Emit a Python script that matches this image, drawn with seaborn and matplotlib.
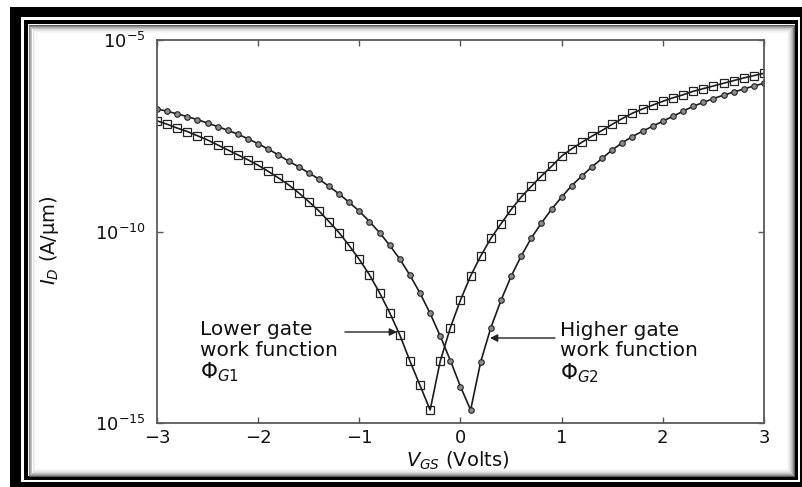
import numpy as np
import pandas as pd
import matplotlib
matplotlib.use("Agg")
import matplotlib.pyplot as plt
from matplotlib.patches import Rectangle
from matplotlib.ticker import FixedLocator, NullLocator, LogFormatterMathtext
import seaborn as sns

# ---------------- data ----------------
v_gs = [-3.0, -2.9, -2.8, -2.7, -2.6, -2.5, -2.4, -2.3, -2.2, -2.1,
        -2.0, -1.9, -1.8, -1.7, -1.6, -1.5, -1.4, -1.3, -1.2, -1.1,
        -1.0, -0.9, -0.8, -0.7, -0.6, -0.5, -0.4, -0.3, -0.2, -0.1,
        0.0, 0.1, 0.2, 0.3, 0.4, 0.5, 0.6, 0.7, 0.8, 0.9,
        1.0, 1.1, 1.2, 1.3, 1.4, 1.5, 1.6, 1.7, 1.8, 1.9,
        2.0, 2.1, 2.2, 2.3, 2.4, 2.5, 2.6, 2.7, 2.8, 2.9, 3.0]

# log10 of I_D (A/um), lower gate work function (squares)
log_id_g1 = [-7.11, -7.20, -7.30, -7.39, -7.50, -7.61, -7.74, -7.87, -8.00, -8.13,
             -8.27, -8.43, -8.60, -8.78, -8.99, -9.22, -9.46, -9.74, -10.03, -10.37,
             -10.73, -11.13, -11.60, -12.12, -12.70, -13.38, -14.02, -14.66, -13.38, -12.51,
             -11.79, -11.16, -10.64, -10.18, -9.80, -9.43, -9.10, -8.82, -8.55, -8.30,
             -8.03, -7.84, -7.67, -7.51, -7.36, -7.20, -7.05, -6.91, -6.80, -6.70,
             -6.60, -6.51, -6.43, -6.34, -6.27, -6.20, -6.13, -6.06, -5.99, -5.93, -5.87]

# log10 of I_D (A/um), higher gate work function (circles)
log_id_g2 = [-6.80, -6.86, -6.93, -7.00, -7.08, -7.17, -7.26, -7.36, -7.46, -7.58,
             -7.71, -7.85, -8.00, -8.16, -8.31, -8.47, -8.63, -8.82, -9.02, -9.24,
             -9.47, -9.74, -10.03, -10.36, -10.72, -11.14, -11.61, -12.14, -12.73, -13.37,
             -14.05, -14.66, -13.40, -12.51, -11.80, -11.17, -10.64, -10.17, -9.78, -9.42,
             -9.10, -8.80, -8.55, -8.31, -8.09, -7.87, -7.68, -7.52, -7.38, -7.25,
             -7.12, -6.99, -6.86, -6.73, -6.63, -6.53, -6.44, -6.36, -6.28, -6.20, -6.13]

x_ticks = [-3, -2, -1, 0, 1, 2, 3]
y_ticks = [1e-15, 1e-10, 1e-5]

label_g1 = ["Lower gate", "work function", r"$\Phi_{G1}$"]
label_g2 = ["Higher gate", "work function", r"$\Phi_{G2}$"]

# ---------------- figure ----------------
W, H = 803, 487
plt.rcParams["font.family"] = ["DejaVu Sans"]
plt.rcParams["mathtext.fontset"] = "dejavusans"
fig = plt.figure(figsize=(W / 100, H / 100), dpi=100, facecolor="white")


def px_rect(x0, y0, x1, y1, **kw):
    return Rectangle((x0 / W, 1 - y1 / H), (x1 - x0) / W, (y1 - y0) / H,
                     transform=fig.transFigure, **kw)


# picture frame
fig.add_artist(px_rect(10, 7, 803, 487, facecolor="black", edgecolor="none", zorder=-10))
fig.add_artist(px_rect(21, 17, 800, 482, facecolor="white", edgecolor="none", zorder=-9))
fig.add_artist(px_rect(24, 20, 798, 480, facecolor="black", edgecolor="none", zorder=-8))
fig.add_artist(px_rect(28, 24, 795, 476, facecolor="white", edgecolor="none", zorder=-7))
shade = ["#5a5a5a", "#8a8a8a", "#aaaaaa", "#c4c4c4", "#d8d8d8", "#e6e6e6", "#f0f0f0", "#f7f7f7"]
for i, c in enumerate(shade):
    fig.add_artist(px_rect(28.5 + i, 24.5 + i, 794.5 - i, 475.5 - i, facecolor="none",
                           edgecolor=c, lw=0.75, zorder=-6))

ax = fig.add_axes([157 / W, 1 - 423 / H, 607 / W, 383 / H])
ax.set_facecolor("white")

df1 = pd.DataFrame({"V": v_gs, "I": 10 ** np.array(log_id_g1)})
df2 = pd.DataFrame({"V": v_gs, "I": 10 ** np.array(log_id_g2)})

sns.lineplot(data=df2, x="V", y="I", ax=ax, estimator=None, sort=False,
             color="#1c1c1c", lw=1.2, marker="o", markersize=4,
             markerfacecolor="#8c8c8c", markeredgecolor="#222222", markeredgewidth=0.8)
sns.lineplot(data=df1, x="V", y="I", ax=ax, estimator=None, sort=False,
             color="#1c1c1c", lw=1.2, marker="s", markersize=5.5,
             markerfacecolor="none", markeredgecolor="#222222", markeredgewidth=0.9)

ax.set_yscale("log")
ax.set_xlim(-3, 3)
ax.set_ylim(1e-15, 1e-5)
ax.xaxis.set_major_locator(FixedLocator(x_ticks))
ax.xaxis.set_minor_locator(NullLocator())
ax.yaxis.set_major_locator(FixedLocator(y_ticks))
ax.yaxis.set_minor_locator(NullLocator())
ax.yaxis.set_major_formatter(LogFormatterMathtext())
ax.set_xticklabels([str(t).replace("-", "\u2212") for t in x_ticks])

ax.tick_params(axis="both", which="major", direction="in", length=4, width=1,
               color="#555555", top=True, right=True, labelsize=13,
               labelcolor="#111111")
ax.tick_params(axis="y", pad=8)
ax.tick_params(axis="x", pad=4)
for s in ax.spines.values():
    s.set_color("#5a5a5a")
    s.set_linewidth(1.3)

ax.set_xlabel(r"$V_{GS}$ (Volts)", fontsize=14, color="#111111")
ax.set_ylabel(r"$I_D$ (A/μm)", fontsize=14, color="#111111")
ax.xaxis.set_label_coords(0.496, -0.07)
ax.yaxis.set_label_coords(-0.158, 0.478)

# annotations
for txt, yf, fs in zip(label_g1, [0.2454, 0.1906, 0.1332], [14.5, 14.5, 15.5]):
    ax.text(0.0708, yf, txt, transform=ax.transAxes, fontsize=fs, color="#111111",
            ha="left", va="center")
for txt, yf, fs in zip(label_g2, [0.2428, 0.1906, 0.1305], [14.5, 14.5, 15.5]):
    ax.text(0.664, yf, txt, transform=ax.transAxes, fontsize=fs, color="#111111",
            ha="left", va="center")

ax.annotate("", xy=(0.3954, 0.2376), xytext=(0.3097, 0.2376), xycoords="axes fraction",
            textcoords="axes fraction",
            arrowprops=dict(arrowstyle="-|>", color="#222222", lw=1.0, mutation_scale=11,
                            shrinkA=0, shrinkB=0))
ax.annotate("", xy=(0.5486, 0.2219), xytext=(0.6557, 0.2219), xycoords="axes fraction",
            textcoords="axes fraction",
            arrowprops=dict(arrowstyle="-|>", color="#222222", lw=1.0, mutation_scale=11,
                            shrinkA=0, shrinkB=0))

fig.savefig("out.png", dpi=100, facecolor="white")
